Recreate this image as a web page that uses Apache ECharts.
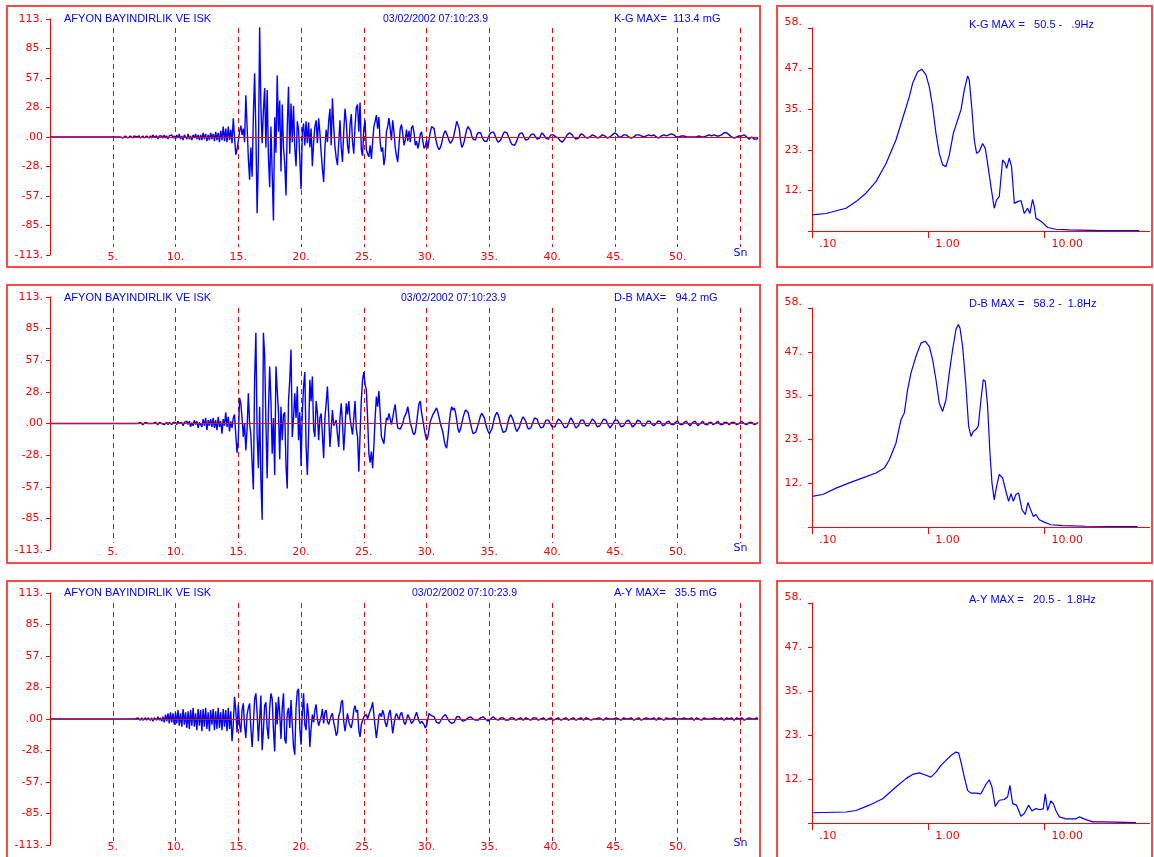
<!DOCTYPE html>
<html><head><meta charset="utf-8">
<script src="https://cdn.jsdelivr.net/npm/echarts@6/dist/echarts.min.js"></script>
<style>html,body{margin:0;padding:0;background:#fff}#c{width:1154px;height:857px}</style>
</head><body><div id="c"></div>
<script>
// ---------- DATA ----------
const sampleStep = 0.1; // seconds between samples, traces start at 0 s
const kgTrace = [
0,0,0,0,0,0,0,0,0,0, 0,0,0,0,0,0,0,0,0,0, 0,0,0,0,0,0,0,0,0,0, 0,0,0,0,0,0,0,0,0,0, 0,0,0,0,0,0,0,0,0,0,
0,1,0,-1,0,1,0,0,-1,0,
1,0,-1,0,1,0,-1,1,0,0,
0,1,-1,0,1,-1,0,1,0,-1,
1,-1,2,0,-1,1,-2,1,0,1,
-1,2,-1,1,-2,1,0,2,-1,1,
-2,2,-1,3,-2,1,-3,2,0,-2,
3,-2,1,-3,2,-1,3,-2,2,-3,
2,-3,4,-2,3,-4,2,-3,4,-2,
3,-4,5,-3,4,-5,6,-3,10,-4,
8,-5,10,-3,7,-6,18,0,-17,-12,
-4,5,11,2,8,-5,40,10,-20,-41,
-10,-38,20,61,5,-73,-20,105,30,-6,
25,47,-10,45,-19,-48,10,-35,-80,19,
-15,59,5,35,-33,31,-10,-25,-56,10,
48,-16,32,-5,30,-10,-28,15,7,-20,
-50,5,13,-8,15,-6,14,-10,8,-28,
-5,10,16,-6,18,4,-15,-30,-43,-10,
7,-5,15,27,-8,37,10,-9,-20,-27,
-5,16,-10,-24,5,27,15,-8,-16,12,
22,-5,-16,10,28,31,5,33,-12,-18,
8,16,-12,-16,-19,-8,-21,-5,10,15,
21,8,19,-5,-14,-10,-27,-19,5,10,
18,8,-3,16,5,-10,-18,-24,-8,8,
12,3,-8,-3,7,-4,6,-5,9,11,
4,-8,-4,-11,-6,3,5,-4,-11,-9,
-3,-11,-2,5,10,11,8,0,-6,-10,
-12,-10,-6,0,4,6,5,0,-4,-6,
-5,-2,3,9,15,16,8,-3,-10,-8,
-4,2,7,10,10,6,1,-2,-3,-3,
2,4,5,4,1,-2,-4,-5,-4,-1,
2,4,5,5,3,0,-3,-5,-5,-3,
0,3,5,5,4,1,-2,-5,-7,-8,
-8,-6,-3,0,3,4,4,2,-1,-3,
-3,-2,0,2,3,3,2,0,-2,-3,
-1,2,4,3,1,-1,-2,-2,0,2,
3,2,1,0,0,-1,-3,-4,-5,-4,
-2,0,2,3,4,4,2,0,-1,-2,
-2,-1,1,3,3,2,0,-1,-1,0,
0,1,2,2,1,0,-1,-1,0,1,
2,2,1,0,-1,-1,0,1,2,3,
4,4,2,0,0,0,1,2,3,2,
1,0,-1,-1,-1,0,1,2,3,2,
2,1,0,0,0,1,1,2,2,1,
2,2,1,0,0,-1,0,1,1,2,
2,1,1,2,2,3,3,2,1,0,
0,0,0,1,1,1,0,0,0,0,
0,0,1,0,0,0,0,1,1,0,
0,0,1,1,2,2,1,1,2,2,
1,1,0,1,1,2,3,4,4,4,
3,2,1,0,-1,-1,0,0,1,1,
1,1,2,2,1,0,-1,-2,-1,0,
-1,-2,-3,-2,-1
];
const dbTrace = [
0,0,0,0,0,0,0,0,0,0, 0,0,0,0,0,0,0,0,0,0, 0,0,0,0,0,0,0,0,0,0, 0,0,0,0,0,0,0,0,0,0, 0,0,0,0,0,0,0,0,0,0, 0,0,0,0,0,0,0,0,0,0, 0,0,0,0,0,0,0,0,0,0,
0,0,1,0,-1,0,1,0,0,-1,
0,1,0,-1,1,0,-1,1,0,0,
1,-1,0,1,-1,1,0,-1,1,0,
1,-1,2,0,-1,1,-2,1,0,2,
-1,2,-3,1,-2,3,-1,2,-4,1,
2,-3,4,-2,5,-6,3,-2,4,-3,
5,-4,3,-6,6,-3,2,-9,4,-2,
10,-3,6,-7,2,-4,5,8,-10,-26,
-15,23,18,5,-12,0,-24,-5,27,0,
-10,-35,-59,39,81,-10,-40,15,-50,-86,
81,61,0,-49,10,51,20,-27,5,-46,
51,30,10,-32,15,-15,8,10,-38,-58,
20,39,66,-12,5,27,5,33,-15,10,
-38,10,33,46,-20,-46,-10,39,20,42,
-5,-12,20,10,-15,5,9,-10,-31,5,
18,33,8,-21,-5,12,-2,-3,3,-10,
-21,5,18,0,-24,-5,18,8,20,5,
-3,-10,5,20,-5,-12,-43,-10,21,39,
46,35,30,5,-27,-35,-25,-40,-20,5,
24,15,29,10,-12,-15,-18,-5,5,3,
9,4,-1,5,12,17,5,-4,-5,-5,
-6,0,5,5,10,15,8,0,-3,-8,
-10,-8,0,10,18,20,10,3,-4,-10,
-15,-12,-5,2,5,8,10,12,14,10,
5,0,-4,-8,-15,-20,-22,-12,0,10,
15,12,14,10,3,-5,-8,-5,0,5,
9,12,13,10,5,0,-5,-9,-10,-8,
-5,-1,3,7,9,8,5,0,-4,-7,
-9,-8,-5,0,5,8,10,8,4,-1,
-5,-8,-9,-7,-3,2,6,8,7,3,
-1,-5,-7,-6,-3,1,4,6,5,2,
-2,-5,-6,-4,-1,2,5,6,4,1,
-2,-4,-5,-3,0,3,4,3,1,-1,
-3,-4,-3,-1,2,4,4,2,0,-2,
-4,-5,-3,0,3,5,4,1,-2,-4,
-4,-2,1,3,4,3,0,-2,-3,-2,
0,2,4,4,2,-1,-3,-4,-2,0,
2,4,5,3,0,-2,-4,-3,-1,1,
3,4,3,1,-1,-3,-3,-2,0,2,
3,3,1,-1,-3,-3,-1,1,3,3,
2,0,-2,-3,-2,0,2,3,2,0,
-1,-2,-2,0,2,3,2,0,-2,-2,
-1,1,2,2,1,-1,-2,-1,1,2,
2,1,-1,-2,-1,1,2,2,0,-1,
-2,-1,1,2,2,0,-2,-2,0,1,
2,1,-1,-2,-1,1,2,1,-1,-1,
0,1,2,1,-1,-2,-1,1,2,1,
0,-1,-1,1,2,1,0,-1,-1,0,
1,2,1,0,-1,-1,0,1,2,1,
0,-1,-1,0,1
];
const ayTrace = [
0,0,0,0,0,0,0,0,0,0, 0,0,0,0,0,0,0,0,0,0, 0,0,0,0,0,0,0,0,0,0, 0,0,0,0,0,0,0,0,0,0, 0,0,0,0,0,0,0,0,0,0, 0,0,0,0,0,0,0,0,0,0,
0,0,0,0,0,0,0,1,0,-1,
1,0,-1,1,-1,0,1,-1,1,0,
-1,1,-2,1,0,-1,2,-1,1,-2,
2,-3,4,-2,5,-4,6,-3,5,-5,
6,-4,8,-6,5,-7,9,-5,6,-8,
7,-9,8,-6,10,-7,5,-10,9,-6,
8,-11,9,-7,10,-9,6,-11,8,-5,
9,-10,7,-9,10,-8,6,-10,9,-7,
8,-11,10,-9,7,-20,-5,20,8,-12,
13,-5,-12,8,14,-6,-17,4,10,14,
-8,-25,-5,18,23,5,-20,0,21,-28,
-10,12,15,-8,-18,10,23,18,-10,-29,
15,-5,20,5,-18,10,23,-18,-22,5,
10,-8,17,-5,-25,-32,10,25,27,-8,
-23,5,23,-5,-10,14,3,-25,-8,4,
-3,8,13,0,-6,-7,2,9,-4,6,
8,-2,-5,-6,3,5,-3,-8,-15,-12,
3,6,15,17,-2,-11,-3,5,-2,-6,
-8,-2,8,12,6,8,-10,-16,-5,-5,
2,3,4,0,4,3,10,15,4,-7,
-17,-8,3,5,2,8,4,-3,-7,-2,
5,8,-2,-13,-5,2,5,2,-1,4,
6,2,-3,-5,-1,4,3,-1,-4,-5,
-1,3,6,2,-2,-4,-2,-1,-5,-8,
-6,0,5,4,3,4,2,-1,-3,-2,
-4,-2,0,2,3,4,3,0,-2,-3,
-4,-5,-3,0,2,3,2,0,-1,-2,
-2,-1,0,1,2,2,1,0,-1,-1,
-2,-1,0,1,1,2,1,0,-1,-2,
-1,0,1,2,1,0,-1,-1,0,1,
2,1,0,-1,-2,-1,0,1,2,1,
0,-1,-1,0,1,1,0,-1,0,1,
1,0,-1,-1,0,1,2,1,0,-1,
-1,0,1,1,0,-1,-1,0,1,1,
0,-1,-1,0,1,1,0,-1,0,0,
1,1,0,-1,-1,0,1,1,0,-1,
-1,0,1,1,0,-1,0,1,1,0,
0,-1,-1,0,1,0,0,1,1,0,
-1,-1,0,1,1,0,-1,0,1,0,
0,1,1,0,-1,-1,0,1,0,0,
-1,0,1,1,0,-1,0,0,1,1,
0,-1,-1,0,1,1,0,0,-1,0,
1,1,0,-1,0,1,1,0,-1,-1,
0,1,1,0,-1,0,1,1,0,0,
-1,0,1,0,0,1,1,0,-1,0,
0,1,0,-1,0,1,1,0,0,-1,
0,1,1,0,-1,0,1,0,0,1,
1,0,-1,0,1,1,0,-1,0,1,
0,0,1,1,0,-1,0,1,0,0,
1,1,0,-1,-1,0,1,1,0,0,
-1,0,1,1,0
];
// Fourier spectra: [frequency Hz, amplitude]
const kgSpectrum = [[0.1,4.6],[0.132,5.0],[0.196,6.5],[0.239,8.4],[0.291,10.8],[0.355,14.1],[0.433,19.3],[0.527,26],[0.602,32.2],[0.687,38.4],[0.733,42.2],[0.81,45.5],[0.882,46.2],[0.955,44.6],[1.02,41.2],[1.089,35.5],[1.164,27.9],[1.243,22.2],[1.328,18.9],[1.419,18.4],[1.515,21.7],[1.641,27.9],[1.787,31.7],[1.909,34.6],[2.04,40.3],[2.178,44.3],[2.25,43.1],[2.373,34.6],[2.485,26],[2.603,22.2],[2.743,22.7],[2.931,25],[3.09,23.6],[3.236,19.3],[3.456,12.7],[3.69,6.5],[3.866,8.9],[4.074,9.8],[4.355,20.3],[4.59,19.3],[4.715,17.9],[4.97,20.8],[5.2,18.4],[5.49,7.9],[5.86,8.4],[6.27,8.7],[6.69,5.0],[7.14,6.5],[7.48,5.0],[7.88,9.0],[8.15,7.0],[8.43,3.6],[9.0,3.1],[9.62,2.4],[10.6,1.0],[12.5,0.5],[16.3,0.3],[31.5,0.1],[65,0.1]];
const dbSpectrum = [[0.1,8.1],[0.1235,8.6],[0.161,10.3],[0.209,11.7],[0.273,13.0],[0.355,14.3],[0.419,15.6],[0.462,17.8],[0.527,22.2],[0.582,28.4],[0.622,30.2],[0.664,36.4],[0.71,40.8],[0.783,45.2],[0.865,48.7],[0.942,49.2],[1.02,47.8],[1.089,44.3],[1.164,39],[1.243,32.8],[1.328,30.6],[1.419,33.7],[1.515,40.8],[1.619,47],[1.729,52.3],[1.811,53.6],[1.872,52.7],[1.973,47.8],[2.108,37.2],[2.222,26.7],[2.327,24],[2.437,25.3],[2.569,25.8],[2.69,26.7],[2.836,33.7],[2.97,39],[3.09,38.6],[3.236,32],[3.39,19.6],[3.527,11.7],[3.69,7.2],[3.866,10.8],[4.074,13.9],[4.355,13],[4.653,9.4],[4.9,6.8],[5.14,8.8],[5.38,6.8],[5.67,8.6],[5.98,9],[6.39,4.6],[6.82,3.3],[7.19,6.5],[7.58,4.6],[8.0,2.8],[8.43,3.3],[9.0,1.9],[9.94,1.3],[11.3,0.6],[14.3,0.35],[22.7,0.2],[63,0.1]];
const aySpectrum = [[0.1,2.7],[0.196,2.9],[0.239,3.3],[0.311,4.7],[0.405,6.4],[0.527,9.5],[0.643,11.7],[0.733,12.8],[0.837,13.2],[0.955,12.6],[1.054,12.1],[1.164,13.4],[1.285,15.2],[1.419,16.5],[1.566,17.8],[1.729,18.7],[1.823,18.5],[1.909,16.1],[2.04,12.1],[2.178,8.6],[2.327,7.9],[2.569,7.9],[2.836,7.7],[3.09,9.9],[3.345,11.4],[3.527,9.5],[3.766,4.4],[4.074,6],[4.5,6.2],[4.81,6.9],[5.03,9.9],[5.31,5.1],[5.74,4.7],[6.27,1.8],[6.69,2.5],[7.28,4.7],[7.78,3.2],[8.43,3.8],[9.12,3.5],[9.75,3.8],[10.13,7.7],[10.6,3.3],[11.3,5.8],[11.9,5.1],[12.5,3.3],[13.4,1.6],[15.2,1.1],[18.6,1.1],[19.9,1.6],[22.7,0.9],[25.9,0.3],[31.5,0.3],[61,0.1]];
// tick labels / texts
const seisYLabels = ['-113.','-85.','-57.','-28.','.00','28.','57.','85.','113.'];
const specYLabels = ['','12.','23.','35.','47.','58.'];
const specXLabels = ['.10','1.00','10.00'];
const stationName = 'AFYON BAYINDIRLIK VE ISK';
const recordDate = '03/02/2002 07:10:23.9';
const seisMaxTexts = ['K-G MAX=  113.4 mG','D-B MAX=   94.2 mG','A-Y MAX=   35.5 mG'];
const specMaxTexts = ['K-G MAX =   50.5 -   .9Hz','D-B MAX =   58.2 -  1.8Hz','A-Y MAX =   20.5 -  1.8Hz'];

// ---------- LAYOUT / STYLE ----------
const RED = '#ff0000', BLUE = '#0000ff', BORDER = '#ff4a4a';
const LF = 'DejaVu Sans', TF = 'Liberation Sans';
const seisLayout = [
  {top:19, h:236, dTop:28, dH:219, box:[7,6,753,261], textY:19, dateX:383},
  {top:297, h:253, dTop:308, dH:235, box:[7,285,753,278], textY:298, dateX:401},
  {top:593, h:252, dTop:603, dH:238, box:[7,581,753,282], textY:593, dateX:412}
];
const specLayout = [
  {top:28, h:203, box:[777,6,375,261], textY:25},
  {top:308, h:219, box:[777,285,375,278], textY:304},
  {top:603, h:220, box:[777,581,375,282], textY:600}
];
const DECADE = 116.3; // px per decade on the spectrum axes
const traces = [kgTrace, dbTrace, ayTrace];
const spectra = [kgSpectrum, dbSpectrum, aySpectrum];
const TMAX = 56.4, FMIN = 0.1, FMAX = 80;

const grids = [], xAxes = [], yAxes = [], series = [], graphics = [];
seisLayout.forEach((L, i) => {
  const g = grids.length;
  grids.push({left:50, top:L.top, width:708, height:L.h});
  xAxes.push({type:'value', gridIndex:g, min:0, max:TMAX, interval:5,
    axisLine:{show:false, onZero:false}, axisTick:{show:false}, splitLine:{show:false},
    axisLabel:{margin:2, verticalAlign:'middle', color:RED, fontFamily:LF, fontSize:11,
      showMinLabel:false, showMaxLabel:false,
      formatter: v => (v <= 0.01 || v > 55.5) ? '' : (Math.abs(v-55) < 0.01 ? '{sn|Sn}' : Math.round(v) + '.'),
      rich:{sn:{color:BLUE, fontFamily:LF, fontSize:11, padding:[0,0,8,0]}}}});
  yAxes.push({type:'value', gridIndex:g, min:-113, max:113, interval:28.25,
    axisLine:{show:true, onZero:false, lineStyle:{color:RED, width:1}},
    axisTick:{show:true, length:4, lineStyle:{color:RED}},
    splitLine:{show:false},
    axisLabel:{color:RED, margin:7, fontFamily:LF, fontSize:11,
      formatter: v => seisYLabels[Math.round((v + 113) / 28.25)]}});
  series.push({type:'line', xAxisIndex:g, yAxisIndex:g,
    data: traces[i].map((v, k) => [Math.round(k * sampleStep * 10) / 10, v]),
    showSymbol:false, symbol:'none', animation:false, z:3,
    lineStyle:{color:BLUE, width:1.4},
    markLine:{silent:true, symbol:['none','none'], animation:false, label:{show:false},
      lineStyle:{color:RED, type:'solid', width:1}, data:[{yAxis:0}]}});
  // dashed grid overlay
  const o = grids.length;
  grids.push({left:50, top:L.dTop, width:708, height:L.dH});
  xAxes.push({type:'value', gridIndex:o, min:0, max:TMAX, interval:5,
    axisLine:{show:false, onZero:false}, axisTick:{show:false}, axisLabel:{show:false},
    splitLine:{show:true, showMinLine:false, showMaxLine:false,
      lineStyle:{color:RED, width:1, type:[5,4]}}});
  yAxes.push({type:'value', gridIndex:o, min:0, max:1, show:false});
  graphics.push({type:'rect', silent:true, shape:{x:L.box[0], y:L.box[1], width:L.box[2], height:L.box[3]},
    style:{fill:'none', stroke:BORDER, lineWidth:2}});
  graphics.push({type:'text', silent:true, style:{x:64, y:L.textY, text:stationName, fill:BLUE, font:'11px "'+TF+'"', verticalAlign:'middle'}});
  graphics.push({type:'text', silent:true, style:{x:L.dateX, y:L.textY, text:recordDate, fill:BLUE, font:'10.5px "'+TF+'"', verticalAlign:'middle'}});
  graphics.push({type:'text', silent:true, style:{x:614, y:L.textY, text:seisMaxTexts[i], fill:BLUE, font:'11px "'+TF+'"', verticalAlign:'middle'}});
});
specLayout.forEach((L, i) => {
  const g = grids.length;
  const w = DECADE * Math.log10(FMAX / FMIN);
  grids.push({left:812, top:L.top, width:w, height:L.h});
  xAxes.push({type:'log', logBase:10, gridIndex:g, min:FMIN, max:FMAX,
    axisLine:{show:true, onZero:false, lineStyle:{color:RED, width:1}},
    axisTick:{show:false}, minorTick:{show:false}, splitLine:{show:false},
    axisLabel:{show:false}});
  yAxes.push({type:'value', gridIndex:g, min:0, max:58, interval:11.6,
    axisLine:{show:true, onZero:false, lineStyle:{color:RED, width:1}},
    axisTick:{show:true, length:4, lineStyle:{color:RED}},
    splitLine:{show:false},
    axisLabel:{color:RED, margin:10, fontFamily:LF, fontSize:11,
      formatter: v => { const k = Math.round(v / 11.6); return k === 5 ? '{t|' + specYLabels[5] + '}' : specYLabels[k]; },
      rich:{t:{color:RED, fontFamily:LF, fontSize:11, padding:[0,0,12,0]}}}});
  series.push({type:'line', xAxisIndex:g, yAxisIndex:g, data:spectra[i],
    showSymbol:false, symbol:'none', animation:false, lineStyle:{color:BLUE, width:1.2}});
  // tick / label axis covering 0.1 .. 10 Hz exactly
  const o = grids.length;
  grids.push({left:812, top:L.top, width:DECADE * 2, height:L.h});
  xAxes.push({type:'log', logBase:10, gridIndex:o, min:0.1, max:10,
    axisLine:{show:false, onZero:false},
    axisTick:{show:true, length:7, lineStyle:{color:RED}},
    minorTick:{show:false}, splitLine:{show:false},
    axisLabel:{color:RED, fontFamily:LF, fontSize:11, align:'left', margin:8, padding:[0,0,0,7],
      formatter: v => specXLabels[Math.round(Math.log10(v)) + 1] || ''}});
  yAxes.push({type:'value', gridIndex:o, min:0, max:1, show:false});
  graphics.push({type:'rect', silent:true, shape:{x:L.box[0], y:L.box[1], width:L.box[2], height:L.box[3]},
    style:{fill:'none', stroke:BORDER, lineWidth:2}});
  graphics.push({type:'text', silent:true, style:{x:969, y:L.textY, text:specMaxTexts[i], fill:BLUE, font:'11px "'+TF+'"', verticalAlign:'middle'}});
});

const chart = echarts.init(document.getElementById('c'), null, {renderer:'canvas'});
chart.setOption({
  backgroundColor:'#ffffff',
  animation:false,
  grid:grids, xAxis:xAxes, yAxis:yAxes, series:series,
  graphic:{elements:graphics}
});
</script></body></html>
